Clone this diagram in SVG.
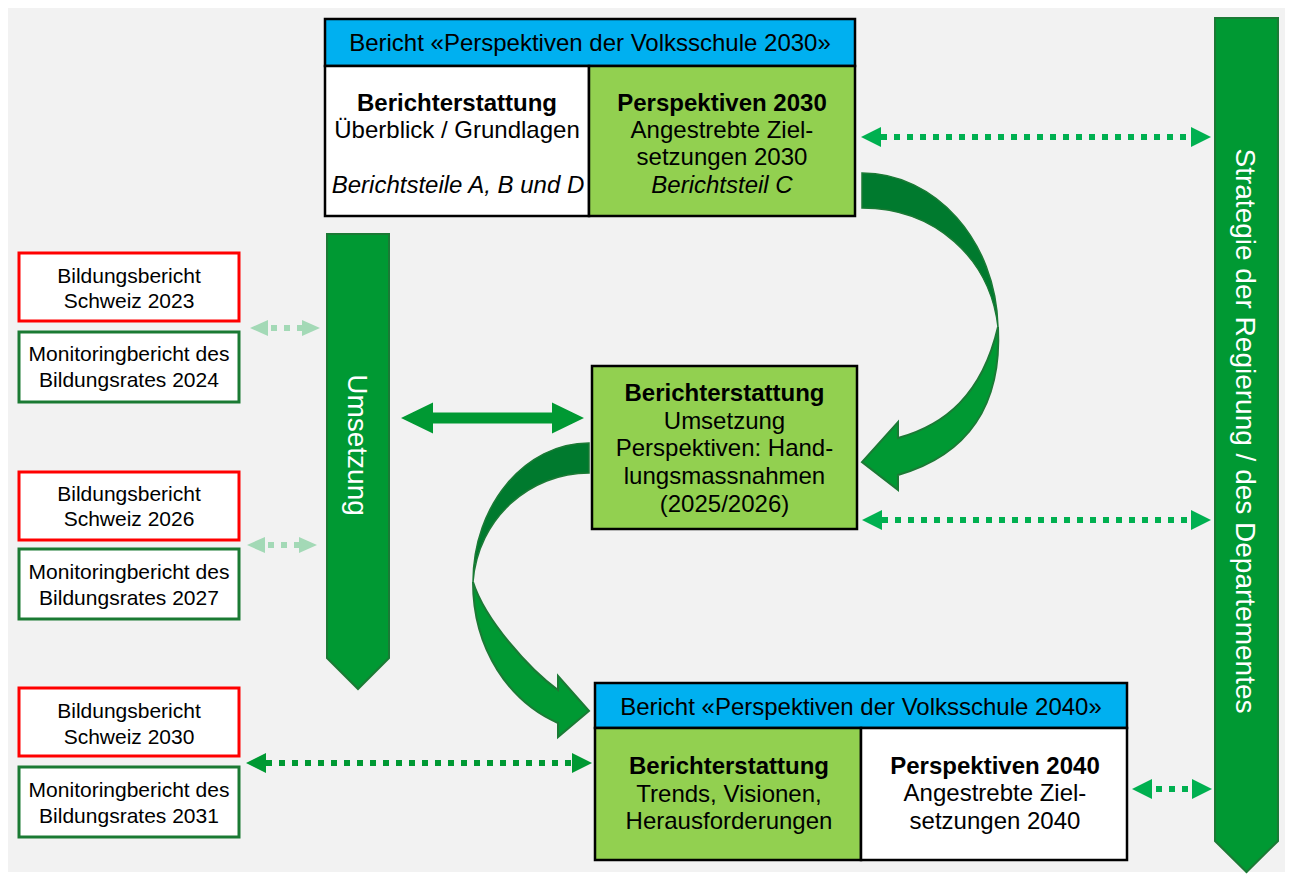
<svg xmlns="http://www.w3.org/2000/svg" width="1293" height="878" viewBox="0 0 1293 878">
<style>
.t{font-family:"Liberation Sans",Arial,sans-serif;text-anchor:middle;fill:#000}
.s24{font-size:24px}
.s21{font-size:21px}
.s28{font-size:28px;fill:#fff}
.b{font-weight:bold}
.i{font-style:italic}
.bx{stroke:#000;stroke-width:2.5}
.red{fill:#fff;stroke:#ff0000;stroke-width:3}
.grn{fill:#fff;stroke:#1a7a33;stroke-width:3}
.big{fill:#009933;stroke:#1b7a35;stroke-width:2}
.dark{fill:#007a2e;stroke:#1b7a35;stroke-width:1.5}
.dotA{stroke:#009933;stroke-width:6;stroke-dasharray:6 7;fill:none}
.dotB{stroke:#00b050;stroke-width:6;stroke-dasharray:6 7;fill:none}
.dotC{stroke:#a3d9b6;stroke-width:6;stroke-dasharray:6 7;fill:none}
</style>
<defs>
<marker id="mA" viewBox="0 0 20 20" refX="0" refY="10" markerWidth="20" markerHeight="20" markerUnits="userSpaceOnUse" orient="auto-start-reverse"><path d="M0,0 L20,10 L0,20 Z" fill="#009933"/></marker>
<marker id="mB" viewBox="0 0 20 20" refX="0" refY="10" markerWidth="20" markerHeight="20" markerUnits="userSpaceOnUse" orient="auto-start-reverse"><path d="M0,0 L20,10 L0,20 Z" fill="#00b050"/></marker>
<marker id="mC" viewBox="0 0 20 20" refX="0" refY="10" markerWidth="20" markerHeight="18" markerUnits="userSpaceOnUse" orient="auto-start-reverse"><path d="M0,1 L20,10 L0,19 Z" fill="#a3d9b6"/></marker>
</defs>
<rect x="0" y="0" width="1293" height="878" fill="#fff"/>
<rect x="8" y="8" width="1277" height="864" fill="#f2f2f2"/>

<g id="connectors">
  <!-- curved arrow top-right -->
  <path class="dark" d="M862,173 C935,173 996,240 998,327 C990,258 935,208 862,208 Z"/>
  <path class="big" d="M998,327 C1002,405 968,455 898,475 L898,490 L862,462 L898,422 L898,438 C945,425 982,395 998,327 Z"/>
  <!-- curved arrow bottom-left -->
  <path class="dark" d="M589,443 C525,443 473,505 473,582 C478,518 530,473 589,473 Z"/>
  <path class="big" d="M473,582 C473,650 510,702 558,723 L558,737 L589,711 L558,676 L558,690 C530,670 485,620 473,582 Z"/>
  <!-- solid double arrow -->
  <path fill="#009933" d="M401,418 L433,402.5 L433,412.5 L552,412.5 L552,402.5 L584,418 L552,433.5 L552,423.5 L433,423.5 L433,433.5 Z"/>
  <!-- dotted arrows -->
  <line class="dotB" x1="881" y1="137" x2="1191" y2="137" marker-start="url(#mB)" marker-end="url(#mB)"/>
  <line class="dotB" x1="882" y1="520" x2="1191" y2="520" marker-start="url(#mB)" marker-end="url(#mB)"/>
  <line class="dotB" x1="1152" y1="789" x2="1192" y2="789" stroke-dashoffset="-4" marker-start="url(#mB)" marker-end="url(#mB)"/>
  <line class="dotA" x1="266" y1="763" x2="572" y2="763" marker-start="url(#mA)" marker-end="url(#mA)"/>
  <line class="dotC" x1="268" y1="328" x2="302" y2="328" stroke-dashoffset="-3" marker-start="url(#mC)" marker-end="url(#mC)"/>
  <line class="dotC" x1="265" y1="545" x2="299" y2="545" stroke-dashoffset="-3" marker-start="url(#mC)" marker-end="url(#mC)"/>
</g>

<g id="umsetzung">
  <path class="big" stroke-width="2.5" d="M327,234 L389,234 L389,658 L358,689 L327,658 Z"/>
  <text class="t s28" transform="translate(358,445) rotate(90)" x="0" y="10">Umsetzung</text>
</g>

<g id="strategie">
  <path class="big" stroke-width="2.5" d="M1215,18 L1278,18 L1278,841 L1246.5,872 L1215,841 Z"/>
  <text class="t s28" transform="translate(1246,431) rotate(90)" x="0" y="10">Strategie der Regierung / des Departementes</text>
</g>

<g id="bericht2030">
  <rect class="bx" x="325" y="19" width="530" height="47" fill="#00b0f0"/>
  <rect class="bx" x="325" y="66" width="264" height="150" fill="#fff"/>
  <rect class="bx" x="589" y="66" width="266" height="150" fill="#92d050"/>
  <text class="t s24" x="590" y="51">Bericht «Perspektiven der Volksschule 2030»</text>
  <text class="t s24 b" x="457" y="111">Berichterstattung</text>
  <text class="t s24" x="457" y="138">Überblick / Grundlagen</text>
  <text class="t s24 i" x="458" y="193">Berichtsteile A, B und D</text>
  <text class="t s24 b" x="722" y="111">Perspektiven 2030</text>
  <text class="t s24" x="722" y="138">Angestrebte Ziel-</text>
  <text class="t s24" x="722" y="165">setzungen 2030</text>
  <text class="t s24 i" x="722" y="193">Berichtsteil C</text>
</g>

<g id="umsetzung2025">
  <rect class="bx" x="592" y="366" width="265" height="163" fill="#92d050"/>
  <text class="t s24 b" x="724.5" y="401">Berichterstattung</text>
  <text class="t s24" x="724.5" y="429">Umsetzung</text>
  <text class="t s24" x="724.5" y="456">Perspektiven: Hand-</text>
  <text class="t s24" x="724.5" y="484">lungsmassnahmen</text>
  <text class="t s24" x="724.5" y="512">(2025/2026)</text>
</g>

<g id="bericht2040">
  <rect class="bx" x="595" y="683" width="532" height="45" fill="#00b0f0"/>
  <rect class="bx" x="595" y="728" width="266" height="132" fill="#92d050"/>
  <rect class="bx" x="861" y="728" width="266" height="132" fill="#fff"/>
  <text class="t s24" x="861" y="715">Bericht «Perspektiven der Volksschule 2040»</text>
  <text class="t s24 b" x="729" y="774">Berichterstattung</text>
  <text class="t s24" x="729" y="802">Trends, Visionen,</text>
  <text class="t s24" x="729" y="829">Herausforderungen</text>
  <text class="t s24 b" x="995" y="774">Perspektiven 2040</text>
  <text class="t s24" x="995" y="801">Angestrebte Ziel-</text>
  <text class="t s24" x="995" y="829">setzungen 2040</text>
</g>

<g id="bb2023">
  <rect class="red" x="19" y="253" width="220" height="68"/>
  <text class="t s21" x="129" y="283">Bildungsbericht</text>
  <text class="t s21" x="129" y="308">Schweiz 2023</text>
</g>
<g id="mb2024">
  <rect class="grn" x="19" y="332" width="220" height="70"/>
  <text class="t s21" x="129" y="361">Monitoringbericht des</text>
  <text class="t s21" x="129" y="387">Bildungsrates 2024</text>
</g>
<g id="bb2026">
  <rect class="red" x="19" y="472" width="220" height="68"/>
  <text class="t s21" x="129" y="501">Bildungsbericht</text>
  <text class="t s21" x="129" y="526">Schweiz 2026</text>
</g>
<g id="mb2027">
  <rect class="grn" x="19" y="549" width="220" height="70"/>
  <text class="t s21" x="129" y="579">Monitoringbericht des</text>
  <text class="t s21" x="129" y="605">Bildungsrates 2027</text>
</g>
<g id="bb2030">
  <rect class="red" x="19" y="688" width="220" height="68"/>
  <text class="t s21" x="129" y="718">Bildungsbericht</text>
  <text class="t s21" x="129" y="744">Schweiz 2030</text>
</g>
<g id="mb2031">
  <rect class="grn" x="19" y="767" width="220" height="70"/>
  <text class="t s21" x="129" y="797">Monitoringbericht des</text>
  <text class="t s21" x="129" y="823">Bildungsrates 2031</text>
</g>
</svg>
